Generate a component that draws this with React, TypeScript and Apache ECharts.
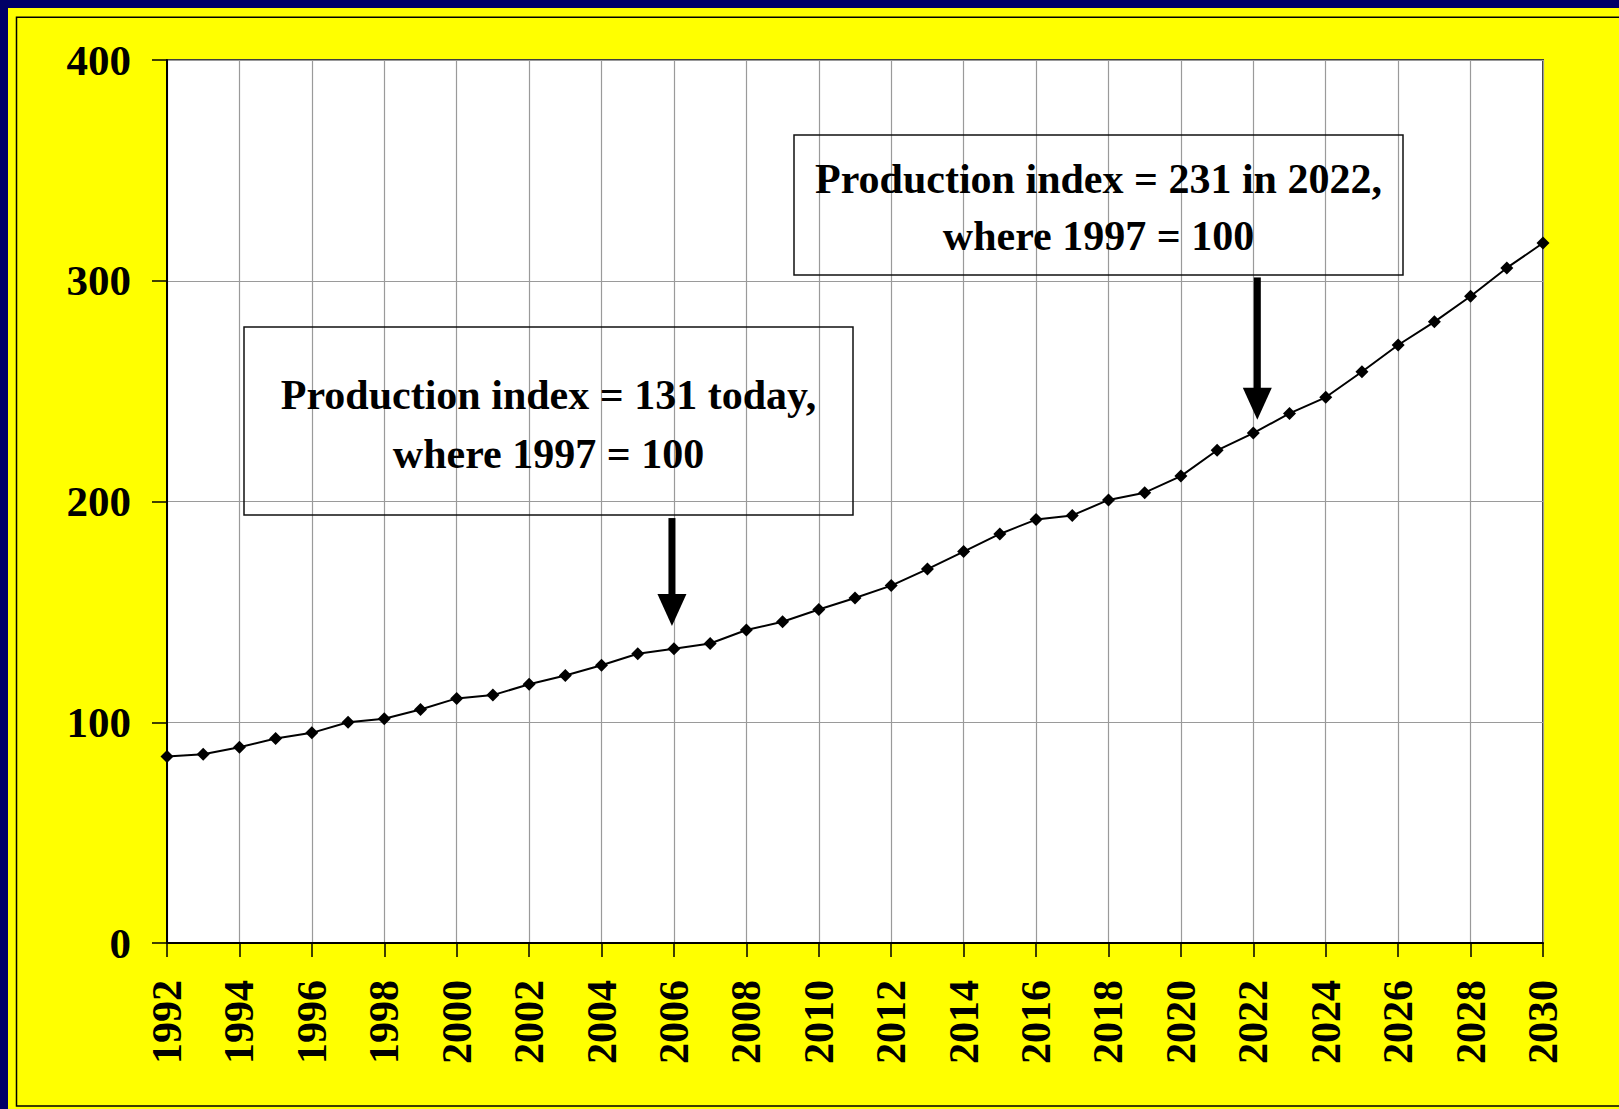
import React, { useEffect, useRef } from 'react';
import * as echarts from 'echarts';

const years: number[] = [
  1992, 1993, 1994, 1995, 1996, 1997, 1998, 1999, 2000, 2001,
  2002, 2003, 2004, 2005, 2006, 2007, 2008, 2009, 2010, 2011,
  2012, 2013, 2014, 2015, 2016, 2017, 2018, 2019, 2020, 2021,
  2022, 2023, 2024, 2025, 2026, 2027, 2028, 2029, 2030,
];
const productionIndex: number[] = [
  84.5, 85.5, 88.7, 92.6, 95.2, 100.0, 101.6, 105.8, 110.8, 112.3,
  117.2, 121.2, 125.8, 131.0, 133.3, 135.7, 141.8, 145.5, 151.1, 156.3,
  161.9, 169.4, 177.3, 185.3, 191.8, 193.7, 200.7, 204.0, 211.5, 223.2,
  231.0, 239.9, 247.2, 258.8, 270.9, 281.4, 293.0, 305.8, 317.1,
];
const yTicks: number[] = [0, 100, 200, 300, 400];

const annotationLines: string[][] = [
  ['Production index = 131 today,', 'where 1997 = 100'],
  ['Production index = 231 in 2022,', 'where 1997 = 100'],
];
const arrowYears: number[] = [2006, 2022];
const arrowFrom: number[] = [192.5, 301.5];
const arrowTo: number[] = [143.6, 237.0];

const FONT = '"Liberation Serif", "Times New Roman", serif';

export default function App() {
  const ref = useRef<HTMLDivElement>(null);

  useEffect(() => {
    if (!ref.current) return;
    const chart = echarts.init(ref.current, undefined, { renderer: 'svg' });
    const seriesData = years.map((y, i) => [y, productionIndex[i]]);

    chart.setOption({
      animation: false,
      backgroundColor: '#FFFF00',
      grid: {
        left: 159,
        top: 52,
        right: 76,
        bottom: 166,
        show: true,
        backgroundColor: '#FFFFFF',
        borderColor: '#404040',
        borderWidth: 2,
      },
      xAxis: {
        type: 'value',
        min: years[0],
        max: years[years.length - 1],
        interval: 2,
        axisLine: { show: true, lineStyle: { color: '#000', width: 2 } },
        axisTick: { show: true, length: 14, lineStyle: { color: '#000', width: 1.5 } },
        splitLine: { show: true, lineStyle: { color: '#9a9a9a', width: 1.2 } },
        axisLabel: {
          rotate: 90,
          margin: 37,
          fontSize: 42,
          fontWeight: 'bold',
          fontFamily: FONT,
          color: '#000',
          hideOverlap: false,
          showMinLabel: true,
          showMaxLabel: true,
          formatter: (v: number) => String(v),
        },
      },
      yAxis: {
        type: 'value',
        min: yTicks[0],
        max: yTicks[yTicks.length - 1],
        interval: 100,
        axisLine: { show: true, lineStyle: { color: '#000', width: 2 } },
        axisTick: { show: true, length: 15, lineStyle: { color: '#000', width: 1.5 } },
        splitLine: { show: true, lineStyle: { color: '#9a9a9a', width: 1.2 } },
        axisLabel: {
          margin: 36,
          fontSize: 43,
          fontWeight: 'bold',
          fontFamily: FONT,
          color: '#000',
          showMinLabel: true,
          showMaxLabel: true,
        },
      },
      series: [
        {
          type: 'line',
          data: seriesData,
          symbol: 'diamond',
          symbolSize: 13,
          lineStyle: { color: '#000', width: 2 },
          itemStyle: { color: '#000' },
          z: 5,
        },
      ],
    });

    const graphics: any[] = [
      {
        type: 'rect',
        silent: true,
        shape: { x: 8.5, y: 9.3, width: 1700, height: 1088.7 },
        style: { fill: 'none', stroke: '#000', lineWidth: 1.5 },
        z: 1,
      },
    ];

    const boxes = [
      { x: 236, y: 319, w: 609, h: 188, l1: 387, l2: 446 },
      { x: 786, y: 127, w: 609, h: 140, l1: 171, l2: 228 },
    ];
    boxes.forEach((b, i) => {
      graphics.push({
        type: 'rect',
        silent: true,
        shape: { x: b.x, y: b.y, width: b.w, height: b.h },
        style: { fill: 'none', stroke: '#111', lineWidth: 1.5 },
        z: 10,
      });
      [b.l1, b.l2].forEach((ly, j) => {
        graphics.push({
          type: 'text',
          silent: true,
          x: b.x + b.w / 2,
          y: ly,
          style: {
            text: annotationLines[i][j],
            fill: '#000',
            fontSize: 42,
            fontWeight: 'bold',
            fontFamily: FONT,
            align: 'center',
            verticalAlign: 'middle',
          },
          z: 11,
        });
      });
    });

    const arrowDx = [-2, 4];
    arrowYears.forEach((yr, i) => {
      const top = chart.convertToPixel({ gridIndex: 0 }, [yr, arrowFrom[i]]) as number[];
      const tip = chart.convertToPixel({ gridIndex: 0 }, [yr, arrowTo[i]]) as number[];
      const cx = tip[0] + arrowDx[i];
      const headH = 32;
      const headW = 29;
      const shaftW = 7;
      const headStart = tip[1] - headH;
      graphics.push({
        type: 'rect',
        silent: true,
        shape: { x: cx - shaftW / 2, y: top[1], width: shaftW, height: headStart - top[1] + 1 },
        style: { fill: '#000' },
        z: 12,
      });
      graphics.push({
        type: 'polygon',
        silent: true,
        shape: { points: [[cx - headW / 2, headStart], [cx + headW / 2, headStart], [cx, tip[1]]] },
        style: { fill: '#000' },
        z: 12,
      });
    });

    chart.setOption({ graphic: graphics });

    return () => chart.dispose();
  }, []);

  return (
    <div
      style={{
        position: 'fixed',
        left: 0,
        top: 0,
        width: 1619,
        height: 1109,
        background: '#000066',
      }}
    >
      <div
        ref={ref}
        style={{ position: 'absolute', left: 8, top: 8, width: 1611, height: 1101 }}
      />
    </div>
  );
}
